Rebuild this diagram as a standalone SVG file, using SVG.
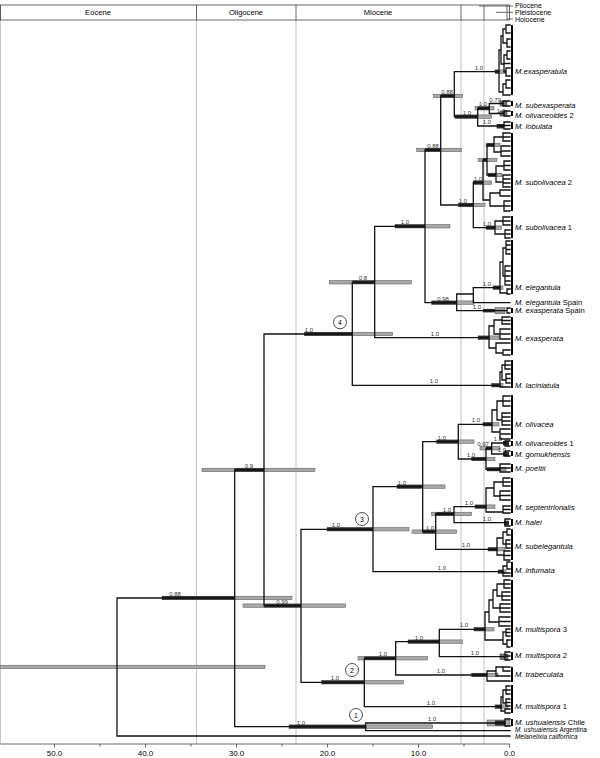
<svg xmlns="http://www.w3.org/2000/svg" width="600" height="758" viewBox="0 0 600 758">
<style>
.br{fill:none;stroke:#111;stroke-width:1.3;stroke-linecap:square}
.hp{fill:#a8a8a8;stroke:#555;stroke-width:0.5}
.dk{fill:#2a2a2a}
.bx{fill:#777;stroke:#333;stroke-width:0.5}
.cb{fill:#000}
.ep{stroke:#b4b4b4;stroke-width:0.8}
.pp{font-family:"Liberation Sans",Arial,sans-serif;font-size:6px;fill:#333;text-anchor:middle}
.tx{font-family:"Liberation Sans",Arial,sans-serif;font-size:7.6px;font-style:italic;fill:#000}
.sm{font-size:6.4px}
.up{font-style:normal}
.hd{font-family:"Liberation Sans",Arial,sans-serif;font-size:7.6px;fill:#000;text-anchor:middle}
.ax{font-family:"Liberation Sans",Arial,sans-serif;font-size:8px;fill:#000;text-anchor:middle}
.ci{fill:#fff;stroke:#222;stroke-width:0.8}
.cn{font-family:"Liberation Sans",Arial,sans-serif;font-size:7px;fill:#000;text-anchor:middle}
</style>
<rect width="600" height="758" fill="#fff"/>
<g id="epochs">
<line class="ep" x1="0.5" y1="5" x2="0.5" y2="744"/>
<line class="ep" x1="196.5" y1="20" x2="196.5" y2="744"/>
<line class="ep" x1="296" y1="20" x2="296" y2="744"/>
<line class="ep" x1="461" y1="20" x2="461" y2="744"/>
<line class="ep" x1="484" y1="20" x2="484" y2="744"/>
</g>
<g id="header">
<rect x="0.5" y="5" width="509" height="15" fill="none" stroke="#444" stroke-width="0.8"/>
<line x1="196.5" y1="5" x2="196.5" y2="20" stroke="#444" stroke-width="0.8"/>
<line x1="296" y1="5" x2="296" y2="20" stroke="#444" stroke-width="0.8"/>
<line x1="461" y1="5" x2="461" y2="20" stroke="#444" stroke-width="0.8"/>
<line x1="484" y1="5" x2="484" y2="20" stroke="#444" stroke-width="0.8"/>
<text class="hd" x="98" y="15.2">Eocene</text>
<text class="hd" x="246" y="15.2">Oligocene</text>
<text class="hd" x="378" y="15.2">Miocene</text>
<path d="M479 6H513M496 12.3H513M507 19H513M507 5V20" fill="none" stroke="#444" stroke-width="0.8"/>
<text class="hd" x="515" y="7.6" style="text-anchor:start;font-size:7px">Pliocene</text>
<text class="hd" x="515" y="14.9" style="text-anchor:start;font-size:7px">Pleistocene</text>
<text class="hd" x="515" y="21.6" style="text-anchor:start;font-size:7px">Holocene</text>
</g>
<g id="axis">
<path d="M0.5 744H510M54.5 744V747.5M100 744V746.5M145.5 744V747.5M191 744V746.5M236.5 744V747.5M282 744V746.5M327.5 744V747.5M373 744V746.5M418.5 744V747.5M464 744V746.5M509.5 744V747.5" fill="none" stroke="#444" stroke-width="0.8"/>
<text class="ax" x="54.5" y="756">50.0</text>
<text class="ax" x="145.5" y="756">40.0</text>
<text class="ax" x="236.5" y="756">30.0</text>
<text class="ax" x="327.5" y="756">20.0</text>
<text class="ax" x="418.5" y="756">10.0</text>
<text class="ax" x="509.5" y="756">0.0</text>
</g>
<g id="hpd">
<rect class="hp" x="0" y="665.2" width="265" height="3.5"/>
<rect class="hp" x="162" y="596.2" width="130" height="3.5"/><rect class="dk" x="162" y="596.2" width="72.7" height="3.5"/>
<rect class="hp" x="202" y="468.2" width="113" height="3.5"/><rect class="dk" x="234.7" y="468.2" width="29.3" height="3.5"/>
<rect class="hp" x="243" y="603.9" width="102.7" height="3.5"/><rect class="dk" x="264" y="603.9" width="37" height="3.5"/>
<rect class="hp" x="304.3" y="332.2" width="88.4" height="3.5"/><rect class="dk" x="304.3" y="332.2" width="48" height="3.5"/>
<rect class="hp" x="329.3" y="280.5" width="82" height="3.5"/><rect class="dk" x="352.3" y="280.5" width="22.4" height="3.5"/>
<rect class="hp" x="395" y="224.5" width="55" height="3.5"/><rect class="dk" x="395" y="224.5" width="30" height="3.5"/>
<rect class="hp" x="416.7" y="148.2" width="45" height="3.5"/><rect class="dk" x="425" y="148.2" width="15.7" height="3.5"/>
<rect class="hp" x="433.3" y="94.2" width="29.4" height="3.5"/><rect class="dk" x="440.7" y="94.2" width="13.6" height="3.5"/>
<rect class="hp" x="495" y="69.9" width="11" height="3.5"/><rect class="dk" x="495" y="69.9" width="4" height="3.5"/>
<rect class="hp" x="455" y="114.9" width="36.7" height="3.5"/><rect class="dk" x="455" y="114.9" width="22.7" height="3.5"/>
<rect class="hp" x="475" y="106.5" width="19" height="3.5"/><rect class="dk" x="477.7" y="106.5" width="11.6" height="3.5"/>
<rect class="bx" x="500" y="101" width="7" height="5"/>
<rect class="bx" x="500" y="111" width="7" height="5"/>
<rect class="dk" x="496.7" y="124" width="7.3" height="4.5"/>
<rect class="hp" x="458.3" y="203.2" width="26.7" height="3.5"/><rect class="dk" x="458.3" y="203.2" width="15" height="3.5"/>
<rect class="hp" x="473.3" y="180.9" width="18.4" height="3.5"/><rect class="dk" x="473.3" y="180.9" width="9.7" height="3.5"/>
<rect class="hp" x="478" y="158.2" width="19" height="3.5"/><rect class="dk" x="483" y="158.2" width="4" height="3.5"/>
<rect class="hp" x="488" y="173.2" width="14" height="3.5"/><rect class="dk" x="488" y="173.2" width="8" height="3.5"/>
<rect class="hp" x="486" y="143.2" width="14" height="3.5"/><rect class="dk" x="487" y="143.2" width="7" height="3.5"/>
<rect class="hp" x="486" y="225.9" width="15.7" height="3.5"/><rect class="dk" x="486" y="225.9" width="9" height="3.5"/>
<rect class="hp" x="431.7" y="300.9" width="42.3" height="3.5"/><rect class="dk" x="431.7" y="300.9" width="25" height="3.5"/>
<rect class="hp" x="493" y="285.9" width="10" height="3.5"/><rect class="dk" x="493" y="285.9" width="7" height="3.5"/>
<rect class="dk" x="483" y="308.9" width="14" height="3.5"/><rect x="495" y="307.7" width="10" height="6" fill="#999" stroke="#444" stroke-width="0.5"/>
<rect class="hp" x="478" y="335.9" width="21" height="3.5"/><rect class="dk" x="478" y="335.9" width="11" height="3.5"/>
<rect class="hp" x="491.7" y="383.5" width="11.3" height="3.5"/><rect class="dk" x="491.7" y="383.5" width="8.3" height="3.5"/>
<rect class="hp" x="327" y="527.5" width="82" height="3.5"/><rect class="dk" x="327" y="527.5" width="46" height="3.5"/>
<rect class="hp" x="397" y="484.9" width="48" height="3.5"/><rect class="dk" x="397" y="484.9" width="25.7" height="3.5"/>
<rect class="hp" x="436.7" y="439.9" width="37.3" height="3.5"/><rect class="dk" x="436.7" y="439.9" width="21.6" height="3.5"/>
<rect class="hp" x="483" y="422.5" width="16" height="3.5"/><rect class="dk" x="483" y="422.5" width="9" height="3.5"/>
<rect class="hp" x="471.7" y="457.2" width="23.3" height="3.5"/><rect class="dk" x="471.7" y="457.2" width="14.3" height="3.5"/>
<rect class="hp" x="480" y="446.5" width="20" height="3.5"/><rect class="dk" x="486" y="446.5" width="5.7" height="3.5"/>
<rect class="dk" x="503" y="441" width="6" height="4.5"/>
<rect class="dk" x="503" y="452" width="6" height="4.5"/>
<rect class="hp" x="487" y="467.5" width="19" height="3.5"/><rect class="dk" x="487" y="467.5" width="13" height="3.5"/>
<rect class="hp" x="412" y="529.9" width="44.7" height="3.5"/><rect class="dk" x="422.7" y="529.9" width="13" height="3.5"/>
<rect class="hp" x="431.7" y="512.2" width="40" height="3.5"/><rect class="dk" x="435.7" y="512.2" width="18.3" height="3.5"/>
<rect class="hp" x="475" y="504.9" width="20" height="3.5"/><rect class="dk" x="475" y="504.9" width="11" height="3.5"/>
<rect class="dk" x="504" y="520.7" width="5" height="4.5"/>
<rect class="hp" x="488" y="547.5" width="17" height="3.5"/><rect class="dk" x="488" y="547.5" width="9" height="3.5"/>
<rect class="hp" x="498" y="569.9" width="8" height="3.5"/><rect class="dk" x="498" y="569.9" width="5" height="3.5"/>
<rect class="hp" x="321.7" y="680.5" width="81.6" height="3.5"/><rect class="dk" x="321.7" y="680.5" width="42.6" height="3.5"/>
<rect class="hp" x="358" y="656.5" width="69.7" height="3.5"/><rect class="dk" x="364.3" y="656.5" width="31.4" height="3.5"/>
<rect class="hp" x="408" y="639.9" width="54.7" height="3.5"/><rect class="dk" x="408" y="639.9" width="31.3" height="3.5"/>
<rect class="hp" x="474" y="627.5" width="20" height="3.5"/><rect class="dk" x="474" y="627.5" width="11" height="3.5"/>
<rect class="bx" x="500" y="654" width="8" height="5.5"/>
<rect class="hp" x="471.7" y="673.2" width="26.3" height="3.5"/><rect class="dk" x="471.7" y="673.2" width="15.3" height="3.5"/>
<rect class="hp" x="495" y="704.9" width="13" height="3.5"/><rect class="dk" x="495" y="704.9" width="6.7" height="3.5"/>
<rect class="hp" x="289" y="724.9" width="143.7" height="3.5"/><rect class="dk" x="289" y="724.9" width="76.7" height="3.5"/>
<rect x="487" y="720" width="23" height="6" fill="#aaa" stroke="#555" stroke-width="0.5"/><rect class="dk" x="495" y="720.5" width="10" height="5"/>
</g>
<g id="connectors">
<path class="br" d="M117 598V736M117 598H234.7M117 736H510M234.7 470V726.7M234.7 470H264M234.7 726.7H365.7M264 334V605.7M264 334H352.3M264 605.7H301M301 529.3V682.3M301 529.3H373M301 682.3H364.3M352.3 282.3V385.3M352.3 282.3H374.7M352.3 385.3H500M374.7 226.3V337.7M374.7 226.3H425M374.7 337.7H489M425 150V302.7M425 150H440.7M425 302.7H456.7M440.7 96V205M440.7 96H454.3M440.7 205H473.3M454.3 71.7V116.7M454.3 71.7H499M454.3 116.7H477.7M477.7 108.3V126M477.7 108.3H489.3M477.7 126H504M489.3 103.5V113.5M489.3 103.5H503M489.3 113.5H504M473.3 182.7V227.7M473.3 182.7H483M473.3 227.7H495M456.7 294V310.7M456.7 294H473.3M456.7 310.7H507M473.3 287.7V302.7M473.3 287.7H500M473.3 302.7H510M373 486.7V571.7M373 486.7H422.7M373 571.7H503M422.7 441.7V531.7M422.7 441.7H458.3M422.7 531.7H435.7M458.3 424.3V459M458.3 424.3H492M458.3 459H486M486 448.3V469.3M486 448.3H491.7M486 469.3H500M491.7 443V454M491.7 443H505M491.7 454H505M435.7 514V549.3M435.7 514H454M435.7 549.3H497M454 506.7V522.7M454 506.7H486M454 522.7H505M364.3 658.3V706.7M364.3 658.3H395.7M364.3 706.7H501M395.7 641.7V675M395.7 641.7H439.3M395.7 675H487M439.3 629.3V656.7M439.3 629.3H485M439.3 656.7H505M365.7 723V730.7M365.7 723H505M365.7 730.7H510"/>
</g>
<g id="posteriors">
<text class="pp" x="175" y="596">0.88</text>
<text class="pp" x="249" y="468">0.9</text>
<text class="pp" x="282" y="603.7">0.99</text>
<text class="pp" x="309" y="332">1.0</text>
<text class="pp" x="363" y="280.3">0.8</text>
<text class="pp" x="405" y="224.3">1.0</text>
<text class="pp" x="433" y="148">0.88</text>
<text class="pp" x="447" y="94">0.88</text>
<text class="pp" x="479" y="69.7">1.0</text>
<text class="pp" x="467" y="114.7">1.0</text>
<text class="pp" x="483" y="106.3">1.0</text>
<text class="pp" x="495" y="101.5">0.79</text>
<text class="pp" x="501" y="113">1.0</text>
<text class="pp" x="487" y="124">1.0</text>
<text class="pp" x="463" y="203">1.0</text>
<text class="pp" x="478" y="180.7">1.0</text>
<text class="pp" x="487" y="225.7">1.0</text>
<text class="pp" x="443" y="300.7">0.98</text>
<text class="pp" x="487" y="285.7">1.0</text>
<text class="pp" x="477" y="308.7">1.0</text>
<text class="pp" x="435" y="335.7">1.0</text>
<text class="pp" x="434" y="383.3">1.0</text>
<text class="pp" x="336" y="527.3">1.0</text>
<text class="pp" x="402" y="484.7">1.0</text>
<text class="pp" x="442" y="439.7">1.0</text>
<text class="pp" x="476" y="422.3">1.0</text>
<text class="pp" x="471" y="457">1.0</text>
<text class="pp" x="483" y="446.3">0.97</text>
<text class="pp" x="498" y="441">1.0</text>
<text class="pp" x="502" y="452">1.0</text>
<text class="pp" x="430" y="529.7">1.0</text>
<text class="pp" x="447" y="512">1.0</text>
<text class="pp" x="469" y="504.7">1.0</text>
<text class="pp" x="487" y="520.7">1.0</text>
<text class="pp" x="466" y="547.3">1.0</text>
<text class="pp" x="442" y="569.7">1.0</text>
<text class="pp" x="335" y="680.3">1.0</text>
<text class="pp" x="383" y="656.3">1.0</text>
<text class="pp" x="419" y="639.7">1.0</text>
<text class="pp" x="464" y="627.3">1.0</text>
<text class="pp" x="475" y="654.7">1.0</text>
<text class="pp" x="441" y="673">1.0</text>
<text class="pp" x="431" y="704.7">1.0</text>
<text class="pp" x="301" y="724.7">1.0</text>
<text class="pp" x="432" y="721">1.0</text>
</g>
<g id="clade-markers">
<circle class="ci" cx="340" cy="322.3" r="6.5"/><text class="cn" x="340" y="324.8">4</text>
<circle class="ci" cx="362" cy="519" r="6.5"/><text class="cn" x="362" y="521.5">3</text>
<circle class="ci" cx="352" cy="670" r="6.5"/><text class="cn" x="352" y="672.5">2</text>
<circle class="ci" cx="356" cy="715" r="6.5"/><text class="cn" x="356" y="717.5">1</text>
</g>
<g id="n-exasperatula"><path class="br" d="M499 50V92M499 50H501M501 36V64M501 36H503M503 29V43M503 29H506M506 25V33M506 25H510M506 33H510M503 43H507M507 39V47M507 39H510M507 47H510M501 64H504M504 55V72M504 55H507M507 51V59M507 51H510M507 59H510M504 72H506M506 68V76M506 68H510M506 76H510M504 63.5H510M499 92H503M503 84V95M503 84H506M506 80V88M506 80H510M506 88H510M503 95H510"/><rect class="cb" x="511" y="25" width="2" height="70"/><text class="tx" x="515" y="74.4">M.exasperatula</text></g>
<g id="n-subexasperata"><path class="br" d="M503 101V106M503 101H510M503 106H510"/><rect class="cb" x="511" y="101" width="2" height="5"/><text class="tx" x="515" y="108">M. subexasperata</text></g>
<g id="n-olivaceoides2"><path class="br" d="M504 111V116M504 111H510M504 116H510"/><rect class="cb" x="511" y="111" width="2" height="5"/><text class="tx" x="515" y="117.6">M. olivaceoides <tspan class="up">2</tspan></text></g>
<g id="n-lobulata"><path class="br" d="M504 122V129M504 122H510M504 129H510M504 125.5H510"/><rect class="cb" x="511" y="122" width="2" height="7"/><text class="tx" x="515" y="128.7">M. lobulata</text></g>
<g id="n-subolivacea2"><path class="br" d="M483 160V200M483 160H487M487 145V175M487 145H494M494 137V152M494 137H503M503 133V141M503 133H510M503 141H510M503 137H510M494 152H501M501 146V156M501 146H510M501 151H510M501 156H510M487 175H496M496 166V182M496 166H504M504 161V170M504 161H510M504 165.5H510M504 170H510M496 182H503M503 175V187M503 175H510M503 179H510M503 183H510M503 187H510M483 200H490M490 193V206M490 193H500M500 190V196M500 190H510M500 196H510M490 206H504M504 201V211M504 201H510M504 206H510M504 211H510"/><rect class="cb" x="511" y="133" width="2" height="78"/><text class="tx" x="515" y="185.4">M. subolivacea <tspan class="up">2</tspan></text></g>
<g id="n-subolivacea1"><path class="br" d="M495 221V234M495 221H503M503 217V225M503 217H510M503 221H510M503 225H510M495 234H505M505 230V238M505 230H510M505 234H510M505 238H510"/><rect class="cb" x="511" y="216" width="2" height="22"/><text class="tx" x="515" y="230.4">M. subolivacea <tspan class="up">1</tspan></text></g>
<g id="n-elegantula"><path class="br" d="M500 262V293M500 262H503M503 248V276M503 248H506M506 241V254M506 241H510M506 245H510M506 249.5H510M506 254H510M503 276H505M505 266V285M505 266H510M505 271H510M505 276H510M505 281H510M505 285H510M500 293H507M507 289V294M507 289H510M507 294H510"/><rect class="cb" x="511" y="240" width="2" height="54"/><text class="tx" x="515" y="290">M. elegantula</text></g>
<g id="n-elegantula-spain"><text class="tx" x="515" y="305.4">M. elegantula <tspan class="up">Spain</tspan></text></g>
<g id="n-exasperata-spain"><path class="br" d="M507 308V313M507 308H510M507 313H510"/><rect class="cb" x="511" y="308" width="2" height="5"/><text class="tx" x="515" y="313.4">M. exasperata <tspan class="up">Spain</tspan></text></g>
<g id="n-exasperata"><path class="br" d="M489 326V348M489 326H494M494 320V334M494 320H502M502 317V324M502 317H510M502 320.5H510M502 324H510M494 334H500M500 329V339M500 329H510M500 334H510M500 339H510M489 348H496M496 343V353M496 343H510M496 353H503M503 350V355M503 350H510M503 355H510"/><rect class="cb" x="511" y="317" width="2" height="38"/><text class="tx" x="515" y="341.4">M. exasperata</text></g>
<g id="n-laciniatula"><path class="br" d="M500 372V387M500 372H502M502 365V380M502 365H505M505 361V369M505 361H510M505 365H510M505 369H510M502 380H506M506 374V383M506 374H510M506 378.5H510M506 383H510M500 387H510"/><rect class="cb" x="511" y="360" width="2" height="28"/><text class="tx" x="515" y="387.7">M. laciniatula</text></g>
<g id="n-olivacea"><path class="br" d="M492 410V432M492 410H497M497 401V420M497 401H503M503 396V406M503 396H510M503 401H510M503 406H510M497 420H502M502 413V425M502 413H510M502 417H510M502 421H510M502 425H510M492 432H500M500 429V439M500 429H510M500 434H510M500 439H510"/><rect class="cb" x="511" y="395" width="2" height="44"/><text class="tx" x="515" y="427">M. olivacea</text></g>
<g id="n-olivaceoides1"><path class="br" d="M505 441V446M505 441H510M505 446H510"/><rect class="cb" x="511" y="441" width="2" height="5"/><text class="tx" x="515" y="446">M. olivaceoides <tspan class="up">1</tspan></text></g>
<g id="n-gomukhensis"><path class="br" d="M505 451V456M505 451H510M505 456H510"/><rect class="cb" x="511" y="451" width="2" height="5"/><text class="tx" x="515" y="457">M. gomukhensis</text></g>
<g id="n-poeltii"><path class="br" d="M500 464V472M500 464H510M500 468H510M500 472H510"/><rect class="cb" x="511" y="464" width="2" height="8"/><text class="tx" x="515" y="471.4">M. poeltii</text></g>
<g id="n-septentrionalis"><path class="br" d="M486 488V512M486 488H494M494 482V496M494 482H503M503 478V486M503 478H510M503 482H510M503 486H510M494 496H500M500 491V500M500 491H510M500 495.5H510M500 500H510M486 512H503M503 506V513M503 506H510M503 509.5H510M503 513H510"/><rect class="cb" x="511" y="478" width="2" height="35"/><text class="tx" x="515" y="510">M. septentrionalis</text></g>
<g id="n-halei"><path class="br" d="M505 519V526M505 519H510M505 526H510"/><rect class="cb" x="511" y="519" width="2" height="7"/><text class="tx" x="515" y="525.4">M. halei</text></g>
<g id="n-subelegantula"><path class="br" d="M497 538V555M497 538H503M503 532V544M503 532H507M507 529V535M507 529H510M507 535H510M503 544H506M506 540V548M506 540H510M506 544H510M506 548H510M497 555H504M504 551V560M504 551H510M504 555.5H510M504 560H510"/><rect class="cb" x="511" y="529" width="2" height="31"/><text class="tx" x="515" y="549.4">M. subelegantula</text></g>
<g id="n-infumata"><path class="br" d="M503 566V576M503 566H507M507 562V569M507 562H510M507 569H510M503 573H510M503 576H510"/><rect class="cb" x="511" y="562" width="2" height="15"/><text class="tx" x="515" y="573.4">M. infumata</text></g>
<g id="n-multispora3"><path class="br" d="M485 612V640M485 612H489M489 600V622M489 600H493M493 590V608M493 590H497M497 584V596M497 584H504M504 580V588M504 580H510M504 584H510M504 588H510M497 596H502M502 592V600M502 592H510M502 596H510M502 600H510M493 608H500M500 604V612M500 604H510M500 608H510M500 612H510M489 622H499M499 617V626M499 617H510M499 621.5H510M499 626H510M485 640H503M503 632V644M503 632H506M506 629V636M506 629H510M506 632.5H510M506 636H510M503 644H507M507 640V647M507 640H510M507 647H510"/><rect class="cb" x="511" y="580" width="2" height="67"/><text class="tx" x="515" y="631.7">M. multispora <tspan class="up">3</tspan></text></g>
<g id="n-multispora2"><path class="br" d="M505 652V660M505 652H510M505 656H510M505 660H510"/><rect class="cb" x="511" y="652" width="2" height="8"/><text class="tx" x="515" y="657.7">M. multispora <tspan class="up">2</tspan></text></g>
<g id="n-trabeculata"><path class="br" d="M487 671V681M487 671H496M496 667V676M496 667H503M503 667V671M503 667H510M503 671H510M496 676H510M487 681H510"/><rect class="cb" x="511" y="667" width="2" height="15"/><text class="tx" x="515" y="676.7">M. trabeculata</text></g>
<g id="n-multispora1"><path class="br" d="M501 697V711M501 697H503M503 690V703M503 690H506M506 686V694M506 686H510M506 690H510M506 694H510M503 703H506M506 699V706M506 699H510M506 702.5H510M506 706H510M501 711H505M505 709V713M505 709H510M505 713H510"/><rect class="cb" x="511" y="685" width="2" height="28"/><text class="tx" x="515" y="708.7">M. multispora <tspan class="up">1</tspan></text></g>
<g id="n-ushuaiensis-chile"><path class="br" d="M505 719V726M505 719H510M505 726H510"/><rect class="cb" x="511" y="719" width="2" height="7"/><text class="tx" x="515" y="725">M. ushuaiensis <tspan class="up">Chile</tspan></text></g>
<g id="n-ushuaiensis-argentina"><text class="tx sm" x="515" y="732.4">M. ushuaiensis <tspan class="up">Argentina</tspan></text></g>
<g id="n-melanelixia"><text class="tx sm" x="515" y="738.6">Melanelixia californica</text></g>
</svg>
